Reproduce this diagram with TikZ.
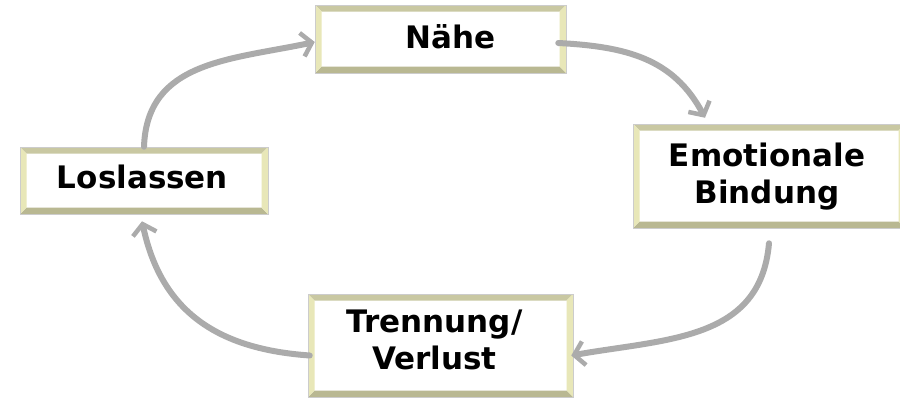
\documentclass[tikz,border=0pt]{standalone}
\usepackage{fontspec}
\setmainfont{DejaVu Sans}
\usetikzlibrary{arrows.meta}
\definecolor{bevside}{HTML}{E8E7B8}
\definecolor{bevtop}{HTML}{C9C8A2}
\definecolor{bevbot}{HTML}{B9B892}
\definecolor{arrowgray}{HTML}{ABABAB}
\tikzset{
  framebox/.style 2 args={rectangle, fill=white, draw=black!20, line width=0.5pt,
    inner sep=0pt, minimum width=#1, minimum height=#2,
    path picture={
      \coordinate (nw) at (path picture bounding box.north west);
      \coordinate (ne) at (path picture bounding box.north east);
      \coordinate (sw) at (path picture bounding box.south west);
      \coordinate (se) at (path picture bounding box.south east);
      \fill[bevtop] (nw) -- (ne) -- ([shift={(-6.5pt,-6.5pt)}]ne) -- ([shift={(6.5pt,-6.5pt)}]nw) -- cycle;
      \fill[bevbot] (sw) -- (se) -- ([shift={(-6.5pt,6.5pt)}]se) -- ([shift={(6.5pt,6.5pt)}]sw) -- cycle;
      \fill[bevside] (nw) -- (sw) -- ([shift={(6.5pt,6.5pt)}]sw) -- ([shift={(6.5pt,-6.5pt)}]nw) -- cycle;
      \fill[bevside] (ne) -- (se) -- ([shift={(-6.5pt,6.5pt)}]se) -- ([shift={(-6.5pt,-6.5pt)}]ne) -- cycle;
    }},
  boxtext/.style={font=\fontsize{31}{37}\selectfont\bfseries, align=center, inner sep=0pt},
  cyclearrow/.style={draw=arrowgray, line width=6pt, line cap=round,
    -{Straight Barb[length=10pt,width=24pt,line width=4.5pt]}},
}
\begin{document}
\begin{tikzpicture}[x=1pt, y=-1pt]
  \useasboundingbox (0,0) rectangle (900,399);

  % the four stages
  \node[framebox={251pt}{68pt}] (nahe) at (440.5,39) {};
  \node[framebox={272pt}{104pt}] (emo) at (769,176) {};
  \node[framebox={265pt}{103pt}] (tren) at (440.5,345.5) {};
  \node[framebox={248pt}{67pt}] (los) at (144,180.5) {};

  % stage labels
  \node[boxtext] (tnahe) at ([xshift=10pt,yshift=2pt]nahe.center) {Nähe};
  \node[boxtext] (temo) at ([xshift=-2pt,yshift=-1pt]emo.center) {Emotionale\\Bindung};
  \node[boxtext] (ttren) at ([xshift=-6pt,yshift=6pt]tren.center) {Trennung/\\Verlust};
  \node[boxtext] (tlos) at ([xshift=-1.5pt,yshift=3.5pt]los.center) {Loslassen};

  % connectors around the cycle
  \coordinate (a1) at ([yshift=-3pt]nahe.west);
  \coordinate (s2) at ([xshift=-8pt,yshift=-4pt]nahe.east);
  \coordinate (a2) at ([xshift=-64pt,yshift=6pt]emo.north);
  \coordinate (s3) at ([yshift=-15pt]emo.south);
  \coordinate (a3) at ([xshift=-2pt,yshift=-10pt]tren.east);
  \coordinate (s4) at ([xshift=2pt,yshift=-10pt]tren.west);
  \coordinate (a4) at ([xshift=-2pt,yshift=-7pt]los.south);

  \draw[cyclearrow] (los.north) to[out=88, in=192, looseness=1.1] (a1);
  \draw[cyclearrow] (s2) to[out=-3, in=118, looseness=1.05] (a2);
  \draw[cyclearrow] (s3) to[out=-95, in=10, looseness=1.1] (a3);
  \draw[cyclearrow] (s4) to[out=176, in=-78, looseness=1.1] (a4);
\end{tikzpicture}
\end{document}
